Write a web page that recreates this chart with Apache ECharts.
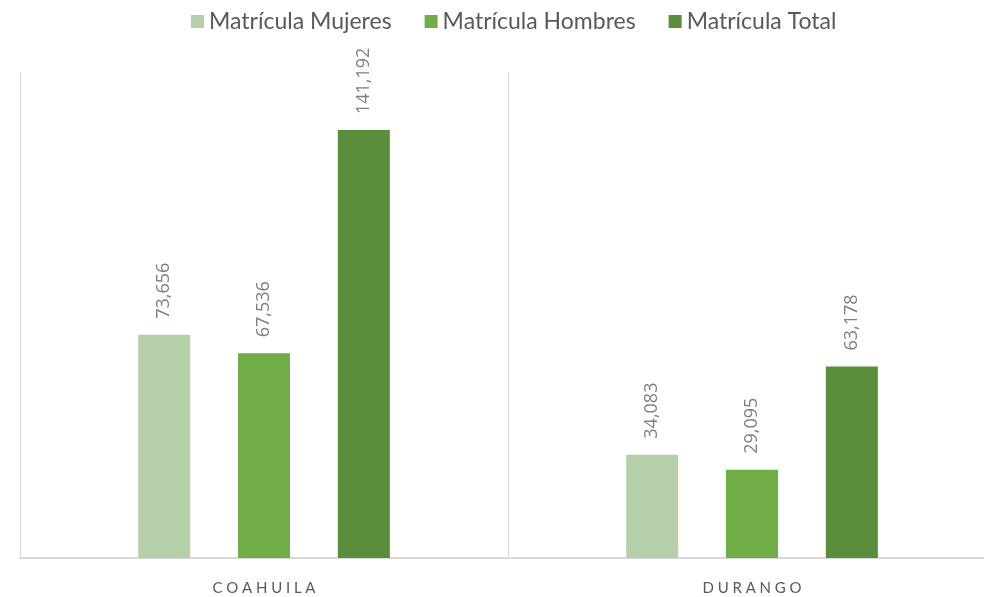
<!DOCTYPE html>
<html>
<head>
<meta charset="utf-8">
<script src="https://cdn.jsdelivr.net/npm/echarts@6/dist/echarts.min.js"></script>
<style>
  html, body { margin: 0; padding: 0; background: #fff; }
  #chart { width: 984px; height: 597px; }
</style>
</head>
<body>
<div id="chart"></div>
<script>
const categories = ['COAHUILA', 'DURANGO']
const seriesNames = ['Matrícula Mujeres', 'Matrícula Hombres', 'Matrícula Total']
const mujeres = [73656, 34083]
const hombres = [67536, 29095]
const total = [141192, 63178]
const colors = ['#b5d0a8', '#70ad47', '#5a8e3a']

const chart = echarts.init(document.getElementById('chart'))

const fmt = (p) => Number(p.value).toLocaleString('en-US')
// spread letters like the original axis captions
const spaced = (s) => s.split('').join('\u2009\u2009')

function barSeries(name, data, color) {
  return {
    name,
    type: 'bar',
    data,
    barWidth: 52,
    barGap: '92%',
    itemStyle: { color },
    label: {
      show: true,
      position: 'top',
      rotate: 90,
      align: 'left',
      verticalAlign: 'middle',
      distance: 16,
      color: '#7f7f7f',
      fontSize: 18,
      fontFamily: 'Open Sans',
      formatter: fmt
    }
  }
}

chart.setOption({
  animation: false,
  color: colors,
  legend: {
    top: 5,
    left: 186,
    itemWidth: 13,
    itemHeight: 13,
    itemGap: 33,
    icon: 'rect',
    textStyle: { color: '#595959', fontSize: 23, fontFamily: 'Lato' },
    data: seriesNames
  },
  // the plot runs a little past the right edge in the original
  grid: { left: 20, width: 976, top: 73, bottom: 39, outerBoundsMode: 'none', containLabel: false },
  xAxis: {
    type: 'category',
    data: categories,
    axisLine: { lineStyle: { color: '#d9d9d9', width: 2 } },
    axisTick: { show: false },
    splitLine: { show: true, lineStyle: { color: '#d9d9d9', width: 1 } },
    axisLabel: {
      color: '#595959',
      fontSize: 15,
      fontFamily: 'Lato',
      margin: 23,
      formatter: spaced
    }
  },
  yAxis: {
    type: 'value',
    min: 0,
    max: 160000,
    show: false,
    splitLine: { show: false }
  },
  series: [
    barSeries(seriesNames[0], mujeres, colors[0]),
    barSeries(seriesNames[1], hombres, colors[1]),
    barSeries(seriesNames[2], total, colors[2])
  ]
})
</script>
</body>
</html>
